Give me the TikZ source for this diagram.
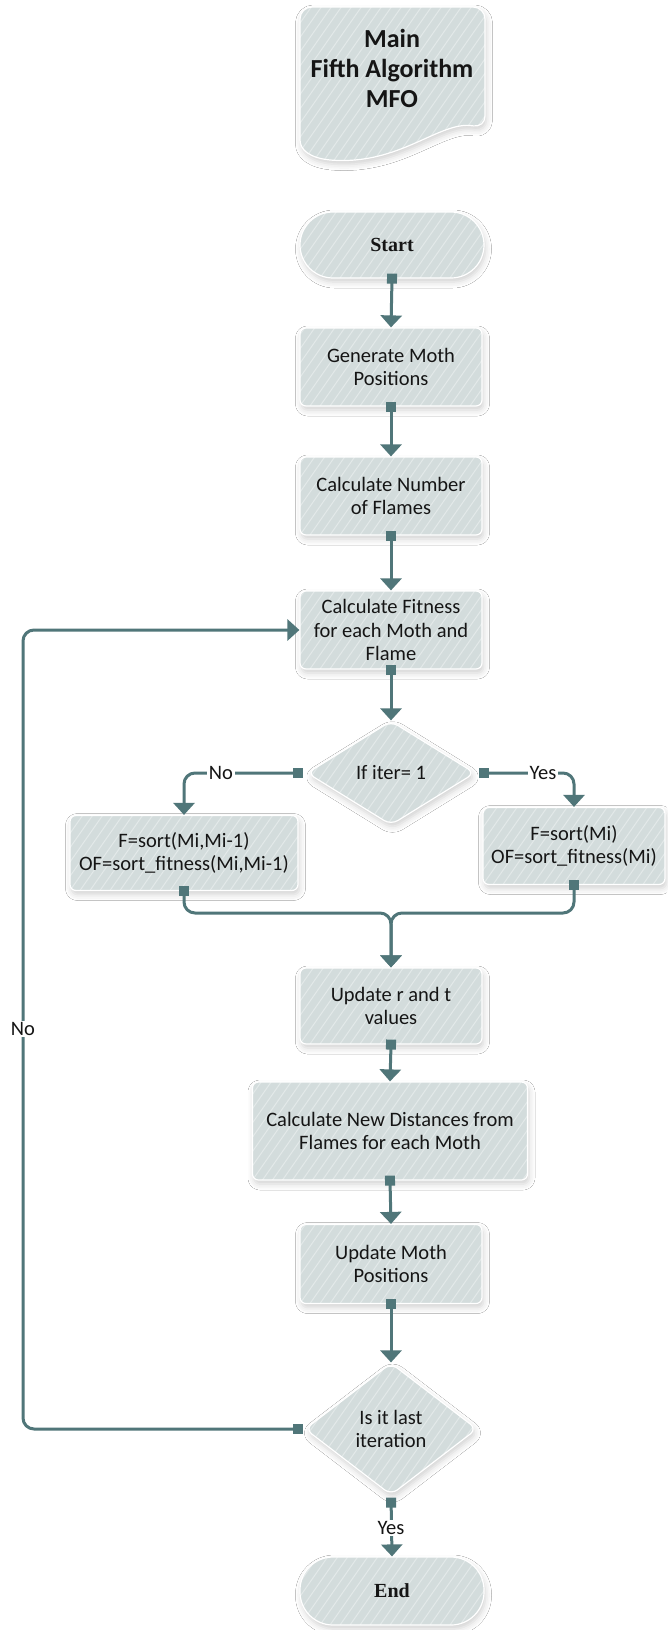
\documentclass[tikz,border=0pt]{standalone}
\usepackage{fontspec}
\setmainfont{Carlito}
\newfontfamily\serifb{Liberation Serif}
\usetikzlibrary{arrows.meta,shapes.geometric,shadows.blur}
\definecolor{lc}{HTML}{507679}
\definecolor{boxfill}{HTML}{D3DCDC}
\definecolor{stripe}{HTML}{E3E9E9}
\definecolor{txt}{HTML}{151515}
\tikzset{
  stripes/.style={path picture={
    \foreach \k in {-15,...,30}{
      \draw[stripe,line width=1pt] ([xshift=\k*10pt]path picture bounding box.south west) -- ++(55:400pt);
    }}},
  shade box/.style={blur shadow={shadow xshift=1.5pt,shadow yshift=-4pt,shadow blur radius=6pt,shadow opacity=18}},
  base/.style={fill=boxfill, draw=white, line width=1.2pt, stripes, shade box, text=txt, align=center, inner sep=0pt,
     font=\fontsize{20.5}{23.5}\selectfont},
  proc/.style={base, rectangle, rounded corners=6pt, minimum width=182pt, minimum height=78pt},
  term/.style={base, rectangle, rounded corners=33pt, minimum width=184pt, minimum height=66pt, font=\serifb\bfseries\fontsize{20}{24}\selectfont},
  dec/.style={base, diamond, rounded corners=8pt},
  conn/.style={draw=lc, line width=3pt, rounded corners=11pt, -{Triangle[width=21pt,length=12pt]}},
  sqconn/.style={conn, {Square[length=10pt,width=10pt]}-{Triangle[width=21pt,length=12pt]}},
  lab/.style={fill=white, inner sep=1.5pt, text=txt, font=\fontsize{20.5}{23.5}\selectfont},
}
\begin{document}
\begin{tikzpicture}[x=1pt,y=-1pt]
\useasboundingbox[fill=white] (0,0) rectangle (667,1630);

% header document shape
\path[fill=boxfill, draw=white, line width=1.2pt, stripes, shade box]
  (300,140) [rounded corners=12pt] -- (300,7) -- (485,7) -- (485,128) [sharp corners]
  .. controls (440,120) and (400,166) .. (330,160)
  .. controls (310,158) and (300,150) .. (300,140) -- cycle;
\node[font=\bfseries\fontsize{26}{30}\selectfont, align=center, text=txt, inner sep=0pt] (head) at (392,68) {Main\\Fifth Algorithm\\MFO};

\node[term] (start) at (392,245) {Start};
\node[proc] (gen) at (391,367) {Generate Moth\\Positions};
\node[proc] (num) at (391,496) {Calculate Number\\of Flames};
\node[proc] (fit) at (391,630) {Calculate Fitness\\for each Moth and\\Flame};
\node[dec, minimum width=168pt, minimum height=104pt, shape aspect=1.6] (d1) at (391,773) {If iter= 1};
\node[proc, minimum width=228pt, minimum height=75pt] (lbox) at (184,853) {F=sort(Mi,Mi-1)\\OF=sort\_fitness(Mi,Mi-1)};
\node[proc, minimum height=77pt] (rbox) at (574,846) {F=sort(Mi)\\OF=sort\_fitness(Mi)};
\node[proc, minimum height=76pt] (upd) at (391,1006) {Update r and t\\values};
\node[proc, minimum width=275pt, minimum height=98pt] (dist) at (390,1131) {Calculate New Distances from\\Flames for each Moth};
\node[proc, minimum height=79pt] (pos) at (391,1264) {Update Moth\\Positions};
\node[dec, minimum width=172pt, minimum height=132pt, shape aspect=1.3] (d2) at (391,1429) {Is it last\\iteration};
\node[term, minimum height=68pt] (endn) at (392,1591) {End};

% connectors
\draw[sqconn, shorten <=-5pt] (start.south) -- (gen.north);
\draw[sqconn, shorten <=-5pt] (gen.south) -- (num.north);
\draw[sqconn, shorten <=-5pt] (num.south) -- (fit.north);
\draw[sqconn, shorten <=-5pt] (fit.south) -- (d1.north);
\draw[sqconn, shorten <=3pt] (d1.west) -| (lbox.north);
\draw[sqconn, shorten <=3pt] (d1.east) -| (rbox.north);
\node[lab] (nolab1) at (221,773) {No};
\node[lab] (yeslab1) at (543,773) {Yes};

\coordinate (mj) at (391,913);
\draw[sqconn, shorten <=-5pt] (lbox.south) |- (mj) -- (upd.north);
\draw[sqconn, shorten <=-5pt] (rbox.south) |- (mj) -- (upd.north);

\draw[sqconn, shorten <=-5pt] (upd.south) -- (dist.north);
\draw[sqconn, shorten <=-5pt] (dist.south) -- (pos.north);
\draw[sqconn, shorten <=-5pt] (pos.south) -- (d2.north);
\draw[sqconn, shorten <=2pt] (d2.south) -- (endn.north);
\node[lab] (yeslab2) at (391,1528) {Yes};

\coordinate (lx) at (23,1029);
\draw[sqconn, shorten <=1pt] (d2.west) -| (lx) |- (fit.west);
\node[lab] (nolab2) at (lx) {No};
\end{tikzpicture}
\end{document}
